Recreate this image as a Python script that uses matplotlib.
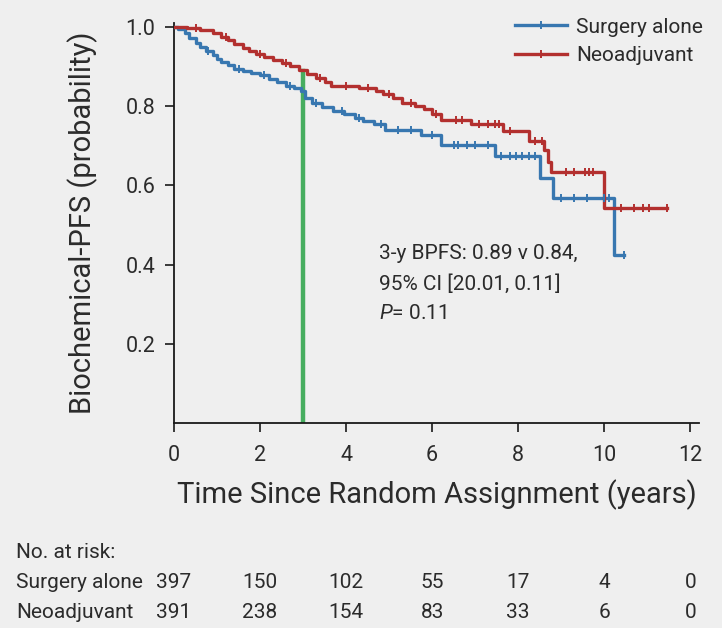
import numpy as np
import matplotlib
matplotlib.use("Agg")
import matplotlib.pyplot as plt
import matplotlib.transforms as mtransforms

plt.rcParams['font.family'] = ['Roboto', 'DejaVu Sans']
plt.rcParams['mathtext.fontset'] = 'custom'
plt.rcParams['mathtext.it'] = 'Roboto:italic'
plt.rcParams['mathtext.rm'] = 'Roboto'

BG = '#efefef'
TXT = '#2b2b2b'
BLUE = '#3877b0'
RED = '#b3302f'
GREEN = '#46ad5f'

# Kaplan-Meier steps (time in years, survival after step)
surg_t = [0, 0.1, 0.25, 0.35, 0.5, 0.6, 0.75, 0.9, 1.0, 1.1, 1.25, 1.4, 1.6, 1.8,
          2.0, 2.2, 2.4, 2.6, 2.8, 2.95, 3.05, 3.2, 3.45, 3.7, 3.95, 4.2, 4.4,
          4.65, 4.9, 5.75, 6.2, 7.45, 8.5, 8.8, 10.22]
surg_s = [1.0, 0.995, 0.985, 0.973, 0.96, 0.95, 0.94, 0.93, 0.92, 0.912, 0.903,
          0.895, 0.89, 0.884, 0.878, 0.868, 0.86, 0.851, 0.845, 0.838, 0.82,
          0.808, 0.798, 0.787, 0.779, 0.77, 0.762, 0.755, 0.741, 0.728, 0.703,
          0.673, 0.618, 0.568, 0.425]
surg_end = 10.45
surg_cens = [0.8, 1.5, 2.1, 2.7, 3.3, 3.9, 4.3, 4.8, 5.2, 5.5, 6.0, 6.5, 6.6,
             6.8, 7.0, 7.3, 7.6, 7.8, 7.95, 8.1, 8.25, 8.4, 9.0, 9.3, 9.6, 10.0,
             10.1, 10.45]

neo_t = [0, 0.3, 0.6, 0.9, 1.1, 1.25, 1.4, 1.6, 1.75, 1.9, 2.1, 2.3, 2.5, 2.7,
         2.9, 3.1, 3.3, 3.5, 3.65, 4.3, 4.7, 4.85, 5.1, 5.3, 5.6, 5.8, 6.0, 6.2,
         6.9, 7.65, 8.25, 8.6, 8.7, 8.77, 10.0]
neo_s = [1.0, 0.997, 0.993, 0.985, 0.975, 0.967, 0.958, 0.948, 0.94, 0.932,
         0.924, 0.916, 0.908, 0.902, 0.892, 0.88, 0.87, 0.86, 0.851, 0.846,
         0.838, 0.83, 0.82, 0.808, 0.8, 0.792, 0.78, 0.766, 0.754, 0.737, 0.711,
         0.69, 0.66, 0.635, 0.543]
neo_end = 11.45
neo_cens = [0.5, 1.2, 2.0, 2.6, 3.4, 4.0, 4.5, 5.0, 5.5, 6.1, 6.55, 6.7, 7.1,
            7.3, 7.45, 7.55, 7.8, 8.4, 8.55, 9.1, 9.3, 9.55, 9.65, 9.75, 10.4,
            10.7, 10.9, 11.05, 11.45]

risk_times = [0, 2, 4, 6, 8, 10, 12]
risk_surg = [397, 150, 102, 55, 17, 4, 0]
risk_neo = [391, 238, 154, 83, 33, 6, 0]

landmark_t = 3
landmark_top = 0.89


def km_curve(ax, t, s, t_end, cens, color, label):
    tt = list(t) + [t_end]
    ss = list(s) + [s[-1]]
    ax.step(tt, ss, where='post', color=color, lw=2.4, zorder=3)
    idx = np.searchsorted(t, cens, side='right') - 1
    ax.plot(cens, np.array(s)[idx], ls='none', marker='|', ms=6, mew=1.4,
            color=color, zorder=4)
    ax.plot([], [], color=color, lw=2.4, marker='|', ms=6, mew=1.4, label=label)


fig = plt.figure(figsize=(7.22, 6.28), dpi=100, facecolor=BG)
ax = fig.add_axes([0.241, 0.3264, 0.727, 0.637], facecolor=BG)

km_curve(ax, surg_t, surg_s, surg_end, surg_cens, BLUE, 'Surgery alone')
km_curve(ax, neo_t, neo_s, neo_end, neo_cens, RED, 'Neoadjuvant')

ax.plot([landmark_t, landmark_t], [0, landmark_top], color=GREEN, lw=3.2, zorder=2)

ax.set_xlim(0, 12.2)
ax.set_ylim(0, 1.01)
ax.set_xticks(risk_times)
ax.set_yticks([0.2, 0.4, 0.6, 0.8, 1.0])
ax.set_yticklabels(['0.2', '0.4', '0.6', '0.8', '1.0'])
for side in ['top', 'right']:
    ax.spines[side].set_visible(False)
for side in ['left', 'bottom']:
    ax.spines[side].set_linewidth(1.3)
    ax.spines[side].set_color('#1a1a1a')
ax.tick_params(direction='out', length=6.5, width=1.2, colors='#1a1a1a',
               labelsize=15.5, labelcolor=TXT)
ax.tick_params(axis='x', pad=9)
ax.tick_params(axis='y', pad=7)

ax.set_xlabel('Time Since Random Assignment (years)', fontsize=21, color=TXT,
              labelpad=10)
ax.set_ylabel('Biochemical-PFS (probability)', fontsize=21, color=TXT, labelpad=20)

ax.legend(loc='upper right', bbox_to_anchor=(0.974, 0.972),
          bbox_transform=fig.transFigure, frameon=False, borderpad=0,
          borderaxespad=0, fontsize=15, handlelength=2.5, handletextpad=0.45,
          labelspacing=0.45, labelcolor=TXT)

ann_x = 4.76
ax.text(ann_x, 0.428, '3-y BPFS: 0.89 v 0.84,', fontsize=15, color=TXT, va='center')
ax.text(ann_x, 0.352, '95% CI [20.01, 0.11]', fontsize=15, color=TXT, va='center')
ax.text(ann_x, 0.276, r'$\it{P}$= 0.11', fontsize=15, color=TXT, va='center')

# number at risk table
tr = mtransforms.blended_transform_factory(ax.transData, fig.transFigure)
row_y = [0.121, 0.0732, 0.0239]
fig.text(0.022, row_y[0], 'No. at risk:', fontsize=15, color=TXT, va='center')
fig.text(0.022, row_y[1], 'Surgery alone', fontsize=15, color=TXT, va='center')
fig.text(0.022, row_y[2], 'Neoadjuvant', fontsize=15, color=TXT, va='center')
for x, a, b in zip(risk_times, risk_surg, risk_neo):
    ax.text(x, row_y[1], str(a), transform=tr, fontsize=15, color=TXT,
            ha='center', va='center')
    ax.text(x, row_y[2], str(b), transform=tr, fontsize=15, color=TXT,
            ha='center', va='center')

fig.savefig('out.png', dpi=100, facecolor=BG)
